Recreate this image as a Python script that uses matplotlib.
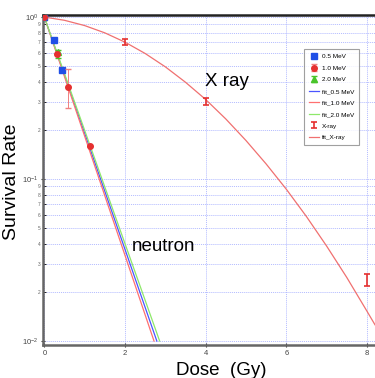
import matplotlib
matplotlib.use("Agg")
import matplotlib.pyplot as plt
from matplotlib.ticker import LogLocator, FixedLocator, FixedFormatter

plt.rcParams["font.family"] = ["Liberation Sans", "DejaVu Sans"]

# measured points (dose in Gy, survival fraction)
dose_05 = [0.0, 0.25, 0.44]
surv_05 = [1.0, 0.72, 0.47]

dose_10 = [0.0, 0.31, 0.58, 1.13]
surv_10 = [1.0, 0.59, 0.37, 0.16]
err_lo_10 = [0.0, 0.0, 0.095, 0.0]
err_hi_10 = [0.0, 0.0, 0.11, 0.0]

dose_20 = [0.0, 0.34]
surv_20 = [1.0, 0.61]
err_lo_20 = [0.0, 0.05]
err_hi_20 = [0.0, 0.02]

dose_xray = [0.0, 2.0, 4.0, 8.0]
surv_xray = [1.0, 0.70, 0.30, 0.024]
err_xray = [0.02, 0.03, 0.015, 0.002]

# fit curves
fit_dose_05 = [0.0, 2.79]
fit_surv_05 = [1.0, 0.01]
fit_dose_10 = [0.0, 2.72]
fit_surv_10 = [1.0, 0.01]
fit_dose_20 = [0.0, 2.86]
fit_surv_20 = [1.0, 0.01]

fit_dose_xray = [0.0, 0.5, 1.0, 1.5, 2.0, 2.5, 3.0, 3.5, 4.0, 4.5, 5.0,
                 5.5, 6.0, 6.5, 7.0, 7.5, 8.0, 8.2]
fit_surv_xray = [1.0, 0.955, 0.886, 0.799, 0.700, 0.596, 0.493, 0.396, 0.310,
                 0.235, 0.173, 0.124, 0.0866, 0.0587, 0.0386, 0.0247, 0.0153, 0.0126]

x_ticks = [0, 2, 4, 6, 8]

fig = plt.figure(figsize=(3.75, 3.78), dpi=100)
ax = fig.add_axes([0.115, 0.087, 0.885, 0.873])
ax.set_yscale("log")

blue = "#1f4fe6"
red = "#e53030"
green = "#49c42a"

ax.plot(fit_dose_05, fit_surv_05, color="#4a55ff", lw=0.9, label="fit_0.5 MeV", zorder=2)
ax.plot(fit_dose_10, fit_surv_10, color="#ff7070", lw=0.9, label="fit_1.0 MeV", zorder=2)
ax.plot(fit_dose_20, fit_surv_20, color="#8ee86a", lw=0.9, label="fit_2.0 MeV", zorder=2)
ax.plot(fit_dose_xray, fit_surv_xray, color="#f07070", lw=0.9, label="fit_X-ray", zorder=2)

ax.plot(dose_05, surv_05, "s", color=blue, ms=4, label="0.5 MeV", zorder=4)
ax.errorbar(dose_10, surv_10, yerr=[err_lo_10, err_hi_10], fmt="o", color=red,
            ms=4, elinewidth=0.7, capsize=2, ecolor="#f08080", label="1.0 MeV", zorder=4)
ax.errorbar(dose_20, surv_20, yerr=[err_lo_20, err_hi_20], fmt="^", color=green,
            ms=4, elinewidth=0.7, capsize=2, label="2.0 MeV", zorder=3)
ax.errorbar(dose_xray, surv_xray, yerr=err_xray, fmt="none", ecolor=red,
            elinewidth=1.2, capsize=2, capthick=1.2, label="X-ray", zorder=4)

ax.set_xlim(-0.03, 8.2)
ax.set_ylim(10 ** -2.025, 10 ** 0.012)

ax.xaxis.set_major_locator(FixedLocator(x_ticks))
ax.yaxis.set_major_locator(LogLocator(base=10, numticks=5))
minor_vals = [m * 10.0 ** e for e in (-2, -1) for m in range(2, 10)]
ax.yaxis.set_minor_locator(FixedLocator(minor_vals))
ax.yaxis.set_minor_formatter(FixedFormatter([str(m) for e in (-2, -1) for m in range(2, 10)]))

ax.tick_params(axis="both", which="major", labelsize=5.5, length=3, direction="inout",
               colors="#333333", labelcolor="#444444", pad=2)
ax.tick_params(axis="y", which="minor", labelsize=3.5, length=2, direction="in",
               labelcolor="#666666", pad=2)

ax.grid(True, which="major", color="#b3bbff", lw=0.7, ls=(0, (1, 1)))
ax.grid(True, which="minor", axis="y", color="#b3bbff", lw=0.7, ls=(0, (1, 1)))

for side in ("left", "bottom"):
    ax.spines[side].set_color("#666666")
    ax.spines[side].set_linewidth(1.8)
ax.spines["top"].set_color("#222222")
ax.spines["top"].set_linewidth(1.8)
ax.spines["right"].set_visible(False)

ax.text(3.99, 0.40, "X ray", fontsize=13.5, va="center")
ax.text(2.18, 0.0385, "neutron", fontsize=13.5, va="center")

fig.text(0.59, 0.02, "Dose  (Gy)", fontsize=13.5, ha="center", va="center")
fig.text(0.031, 0.52, "Survival Rate", fontsize=14, rotation=90, ha="center", va="center")

handles, labels = ax.get_legend_handles_labels()
order = ["0.5 MeV", "1.0 MeV", "2.0 MeV", "fit_0.5 MeV", "fit_1.0 MeV",
         "fit_2.0 MeV", "X-ray", "fit_X-ray"]
hmap = dict(zip(labels, handles))
leg = ax.legend([hmap[k] for k in order], order, loc="upper right",
                bbox_to_anchor=(0.96, 0.906), fontsize=4.6, frameon=True,
                fancybox=False, edgecolor="#888888", handlelength=1.6,
                borderpad=0.7, labelspacing=0.95, handletextpad=0.4)
leg.get_frame().set_linewidth(0.8)

fig.savefig("out.png", dpi=100)
